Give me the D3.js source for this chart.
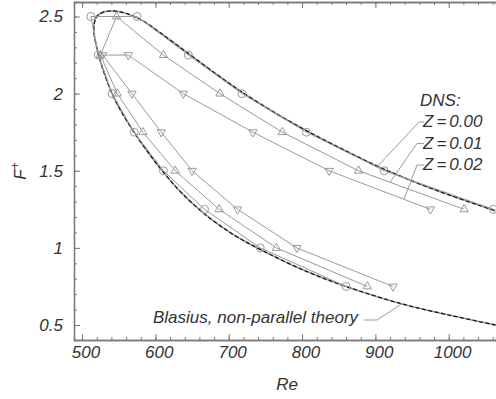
<!DOCTYPE html>
<html>
<head>
<meta charset="utf-8">
<script src="https://cdn.jsdelivr.net/npm/d3@7"></script>
<style>
  body { margin: 0; background: #fff; }
  text { font-family: "Liberation Sans", Arial, sans-serif; font-style: italic; fill: #333; }
</style>
</head>
<body>
<svg id="chart" width="496" height="399"></svg>
<script>
// DNS neutral points, Z = 0.00 (circles)
var z000Re = [860, 743, 667, 611, 571, 541, 522, 512, 575, 645, 718, 806, 912, 1061];
var z000F  = [0.75, 1.0, 1.25, 1.5, 1.75, 2.0, 2.25, 2.5, 2.5, 2.25, 2.0, 1.75, 1.5, 1.25];

// Z = 0.01 (up triangles)
var z001Re = [889, 765, 687, 627, 583, 548, 525, 547, 611, 688, 773, 877, 1021];
var z001F  = [0.75, 1.0, 1.25, 1.5, 1.75, 2.0, 2.25, 2.5, 2.25, 2.0, 1.75, 1.5, 1.25];

// Z = 0.02 (down triangles)
var z002Re = [924, 793, 712, 650, 608, 568, 528, 563, 638, 733, 837, 975];
var z002F  = [0.75, 1.0, 1.25, 1.5, 1.75, 2.0, 2.25, 2.25, 2.0, 1.75, 1.5, 1.25];

// Blasius, non-parallel theory
var blasRe = [1064, 1005, 934, 860, 805, 743, 705, 667, 635, 611, 590, 571, 554, 541, 529, 520, 516,
              520, 530, 545, 560, 580, 605, 645, 685, 718, 765, 806, 855, 912, 985, 1064];
var blasF  = [0.50, 0.56, 0.64, 0.75, 0.85, 0.99, 1.09, 1.22, 1.36, 1.49, 1.62, 1.75, 1.88, 2.00, 2.15, 2.30, 2.42,
              2.50, 2.53, 2.535, 2.52, 2.48, 2.40, 2.26, 2.12, 2.01, 1.87, 1.76, 1.64, 1.51, 1.37, 1.24];

var xMajor = [500, 600, 700, 800, 900, 1000];
var yMajor = [0.5, 1, 1.5, 2, 2.5];
var legendLabels = ["0.00", "0.01", "0.02"];

var svg = d3.select("#chart"),
    padL = 74, padR = 496, padT = 2, padB = 340;

var x = d3.scaleLinear().domain([489, 1064.5]).range([padL, padR]);
var y = d3.scaleLinear().domain([0.403, 2.594]).range([padB, padT]);

var grey = "#9a9a9a";

function pts(re, f) {
    return re.map(function (d, i) { return [d, f[i]]; });
}

// value of F on a polyline between index a and b, at a given Re
function interp(re, f, a, b, r) {
    for (var i = a; i < b; i++) {
        var r0 = re[i], r1 = re[i + 1];
        if ((r - r0) * (r - r1) <= 0 && r0 != r1) {
            var t = (r - r0) / (r1 - r0);
            return f[i] + t * (f[i + 1] - f[i]);
        }
    }
    return f[b];
}

// axes
var axisG = svg.append("g");

function styleAxis(g) {
    g.select(".domain").attr("stroke", "#7a7a7a").attr("stroke-width", 1.3);
    g.selectAll(".tick line").attr("stroke", "#7a7a7a").attr("stroke-width", 1);
}

axisG.append("g")
    .attr("transform", "translate(0," + padB + ")")
    .call(d3.axisBottom(x).tickValues(d3.range(500, 1061, 20)).tickSize(-3).tickFormat(""))
    .call(styleAxis);
axisG.append("g")
    .attr("transform", "translate(0," + padB + ")")
    .call(d3.axisBottom(x).tickValues(xMajor).tickSizeInner(-6).tickSizeOuter(0).tickPadding(6).tickFormat(d3.format("d")))
    .call(styleAxis)
    .selectAll("text")
    .attr("font-size", 17)
    .attr("font-family", null)
    .attr("fill", "#333")
    .attr("dx", "0.2em");

axisG.append("g")
    .attr("transform", "translate(0," + padT + ")")
    .call(d3.axisTop(x).tickValues(d3.range(500, 1061, 20)).tickSize(-3).tickFormat(""))
    .call(styleAxis);
axisG.append("g")
    .attr("transform", "translate(0," + padT + ")")
    .call(d3.axisTop(x).tickValues(xMajor).tickSizeInner(-6).tickSizeOuter(0).tickFormat(""))
    .call(styleAxis);

axisG.append("g")
    .attr("transform", "translate(" + padL + ",0)")
    .call(d3.axisLeft(y).tickValues(d3.range(0.5, 2.55, 0.1)).tickSize(-3).tickFormat(""))
    .call(styleAxis);
axisG.append("g")
    .attr("transform", "translate(" + padL + ",0)")
    .call(d3.axisLeft(y).tickValues(yMajor).tickSizeInner(-6).tickSizeOuter(0).tickPadding(11)
        .tickFormat(function (d) { return String(d); }))
    .call(styleAxis)
    .selectAll("text")
    .attr("font-size", 17)
    .attr("font-family", null)
    .attr("fill", "#333");

// axis titles
svg.append("text")
    .attr("x", 287).attr("y", 390)
    .attr("text-anchor", "middle")
    .attr("font-size", 17)
    .text("Re");

var yl = svg.append("text")
    .attr("transform", "translate(26,171) rotate(-90)")
    .attr("text-anchor", "middle")
    .attr("font-size", 17);
yl.append("tspan").text("F");
yl.append("tspan").attr("baseline-shift", "super").attr("font-size", 12).text("+");

// curves
var line = d3.line()
    .x(function (d) { return x(d[0]); })
    .y(function (d) { return y(d[1]); });
var smooth = d3.line()
    .curve(d3.curveCatmullRom.alpha(0.5))
    .x(function (d) { return x(d[0]); })
    .y(function (d) { return y(d[1]); });

var plot = svg.append("g");

plot.append("path")
    .attr("d", smooth(pts(blasRe, blasF)))
    .attr("fill", "none")
    .attr("stroke", "#9a9a9a")
    .attr("stroke-width", 1.6);
plot.append("path")
    .attr("d", smooth(pts(blasRe, blasF)))
    .attr("fill", "none")
    .attr("stroke", "#1a1a1a")
    .attr("stroke-width", 1.3)
    .attr("stroke-dasharray", "4,2.5");

var series = [
    {re: z000Re, f: z000F, shape: "circle"},
    {re: z001Re, f: z001F, shape: "up"},
    {re: z002Re, f: z002F, shape: "down"}
];

series.forEach(function (s) {
    plot.append("path")
        .attr("d", line(pts(s.re, s.f)))
        .attr("fill", "none")
        .attr("stroke", grey)
        .attr("stroke-width", 1);

    var m = plot.append("g").selectAll("path")
        .data(pts(s.re, s.f))
        .enter().append("path")
        .attr("fill", "none")
        .attr("stroke", grey)
        .attr("stroke-width", 1);
    if (s.shape == "circle") {
        m.attr("d", d3.symbol().type(d3.symbolCircle).size(50))
            .attr("transform", function (d) { return "translate(" + x(d[0]) + "," + y(d[1]) + ")"; });
    } else {
        m.attr("d", d3.symbol().type(d3.symbolTriangle).size(30))
            .attr("transform", function (d) {
                return "translate(" + x(d[0]) + "," + y(d[1]) + ")" + (s.shape == "down" ? " rotate(180)" : "");
            });
    }
});

// legend with leader lines
svg.append("text")
    .attr("x", 420).attr("y", 106)
    .attr("font-size", 17)
    .text("DNS:");

var leaderRe = [902, 920, 939];
legendLabels.forEach(function (lab, i) {
    var s = series[i];
    var by = 127 + i * 21.5;
    var t = svg.append("text")
        .attr("x", 423).attr("y", by)
        .attr("font-size", 17);
    t.append("tspan").text("Z");
    t.append("tspan").attr("dx", 3).text("=");
    t.append("tspan").attr("dx", 3).text(lab);

    var n = s.re.length - 1;
    var r = leaderRe[i];
    var fy = interp(s.re, s.f, 7, n, r);
    svg.append("path")
        .attr("d", "M" + 424 + "," + (by - 5) + "H" + (417 + (i == 0 ? 2 : 0)) + "L" + x(r) + "," + y(fy))
        .attr("fill", "none")
        .attr("stroke", grey)
        .attr("stroke-width", 1);
});

svg.append("text")
    .attr("x", 153).attr("y", 323)
    .attr("font-size", 17)
    .text("Blasius, non-parallel theory");

var bRe = 936;
var bF = interp(blasRe, blasF, 0, 16, bRe);
svg.append("path")
    .attr("d", "M364,320H377L" + x(bRe) + "," + y(bF))
    .attr("fill", "none")
    .attr("stroke", grey)
    .attr("stroke-width", 1);
</script>
</body>
</html>
